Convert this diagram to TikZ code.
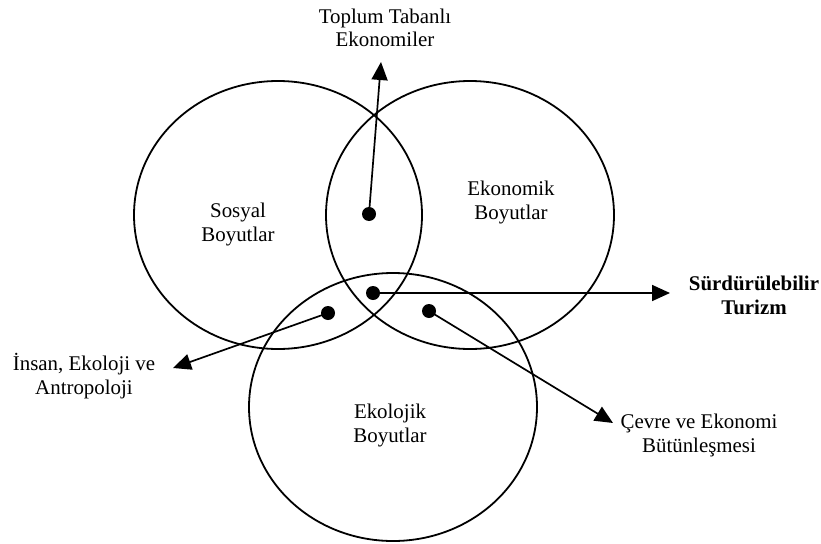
\documentclass[tikz,border=0pt]{standalone}
\usepackage{fontspec}
\setmainfont{Liberation Serif}
\usetikzlibrary{shapes.geometric,arrows.meta}
\begin{document}
\begin{tikzpicture}[x=1pt,y=-1pt,
  ell/.style={ellipse,draw,line width=1.8pt,minimum width=288pt,minimum height=268pt,inner sep=0pt},
  dot/.style={circle,fill=black,minimum size=14pt,inner sep=0pt},
  arr/.style={line width=1.7pt,-{Triangle[length=18pt,width=16pt]}},
  lbl/.style={align=center,anchor=base,inner sep=0pt,font=\fontsize{20.9}{24}\selectfont},
  blbl/.style={lbl,font=\fontsize{20.9}{24}\selectfont\bfseries}]
\useasboundingbox (0,0) rectangle (821,543);
% ellipses
\node[ell] (sos) at (278,215) {};
\node[ell] (eko) at (470,215) {};
\node[ell] (ekol) at (393,407) {};
% labels in ellipses (anchor = baseline of last line)
\node[lbl] (tsos) at (238,241) {Sosyal\\Boyutlar};
\node[lbl] (teko) at (511,219) {Ekonomik\\Boyutlar};
\node[lbl] (tekol) at (390,442) {Ekolojik\\Boyutlar};
% outer labels
\node[lbl] (ttop) at (385,47) {Toplum Tabanlı\\Ekonomiler};
\node[blbl] (tsur) at (754,314) {Sürdürülebilir\\Turizm};
\node[lbl] (tins) at (84,394) {İnsan, Ekoloji ve\\Antropoloji};
\node[lbl] (tcev) at (699,452) {Çevre ve Ekonomi\\Bütünleşmesi};
% dots
\node[dot] (dtop) at (369,214) {};
\node[dot] (dsur) at (373,293) {};
\node[dot] (dins) at (328,313) {};
\node[dot] (dcev) at (429,311) {};
% arrow tips
\coordinate (atop) at (381,62);
\coordinate (asur) at (670,293);
\coordinate (ains) at (173,368);
\coordinate (acev) at (613,423);
\draw[arr] (dtop.center) -- (atop);
\draw[arr] (dsur.center) -- (asur);
\draw[arr] (dins.center) -- (ains);
\draw[arr] (dcev.center) -- (acev);
\end{tikzpicture}
\end{document}
